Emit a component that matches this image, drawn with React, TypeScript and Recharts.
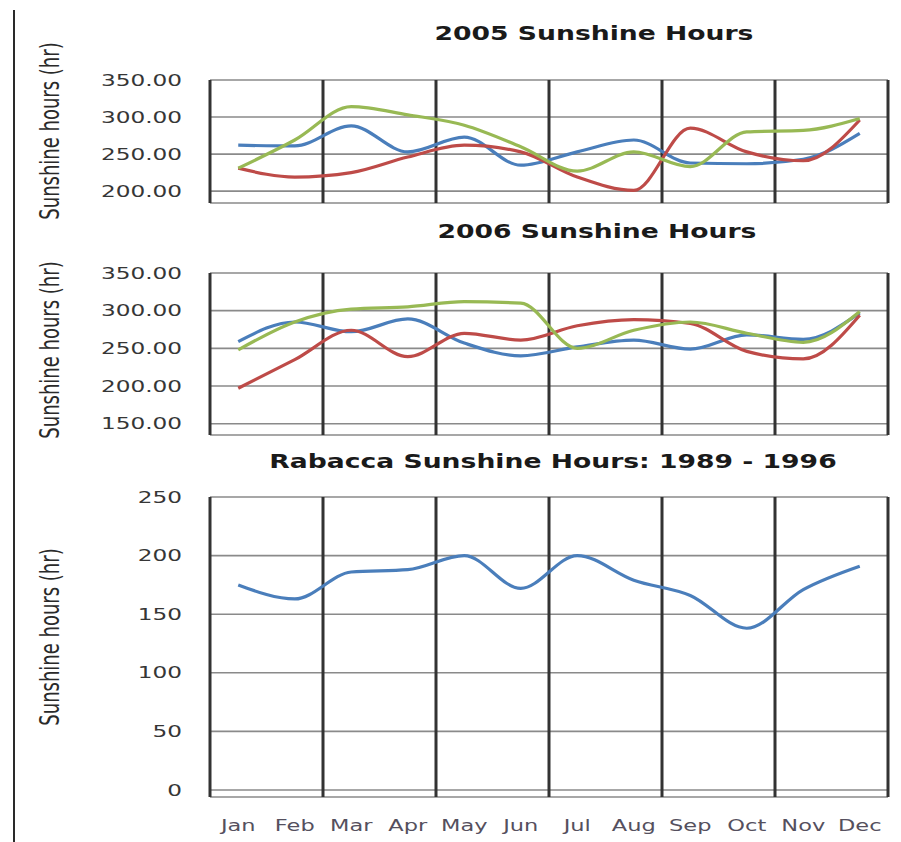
import React from "react"
import { LineChart, Line, XAxis, YAxis, CartesianGrid, ReferenceLine } from "recharts"

const MONTHS = ["Jan", "Feb", "Mar", "Apr", "May", "Jun", "Jul", "Aug", "Sep", "Oct", "Nov", "Dec"]

// 2005
const BLUE_2005 = [262, 261, 288, 253, 273, 235, 253, 269, 238, 237, 243, 278]
const RED_2005 = [231, 219, 225, 246, 262, 253, 219, 201, 285, 253, 241, 296]
const GREEN_2005 = [231, 269, 314, 303, 289, 260, 227, 253, 233, 280, 282, 298]

// 2006
const BLUE_2006 = [259, 285, 272, 289, 257, 240, 252, 261, 249, 268, 262, 297]
const RED_2006 = [197, 235, 274, 239, 270, 261, 280, 288, 283, 246, 236, 294]
const GREEN_2006 = [248, 285, 302, 305, 312, 310, 250, 274, 285, 270, 258, 299]

// Rabacca 1989 - 1996
const RABACCA = [175, 163, 186, 188, 200, 172, 200, 179, 166, 138, 171, 191]

const TICKS_TOP = [200, 250, 300, 350]
const TICKS_MID = [150, 200, 250, 300, 350]
const TICKS_BOTTOM = [0, 50, 100, 150, 200, 250]
const MONTH_TICKS = MONTHS.map((_, i) => i)
const DIVIDERS = [1.5, 3.5, 5.5, 7.5, 9.5, 11.5]

const BLUE = "#4a7ebb"
const RED = "#be4b48"
const GREEN = "#98b954"

type Series = { key: string; color: string; values: number[] }

function buildRows(series: Series[]) {
  return MONTHS.map((month, i) => {
    const row: Record<string, number | string> = { m: i, month }
    series.forEach((s) => {
      row[s.key] = s.values[i]
    })
    return row
  })
}

function StretchedTick(props: any) {
  const { x, y, payload, decimals, anchor, dy } = props
  const value = typeof payload.value === "number" && decimals != null
    ? payload.value.toFixed(decimals)
    : payload.value
  return (
    <g transform={`translate(${x},${y})`}>
      <text
        x={0}
        y={0}
        dy={dy}
        textAnchor={anchor}
        transform="scale(1.45,1)"
        fontFamily="'DejaVu Sans', Verdana, sans-serif"
        fontSize={16}
        fill="#363636"
      >
        {value}
      </text>
    </g>
  )
}

function MonthTick(props: any) {
  const { x, y, payload } = props
  return (
    <g transform={`translate(${x},${y})`}>
      <text
        x={0}
        y={0}
        dy="0.71em"
        textAnchor="middle"
        transform="scale(1.5,1)"
        fontFamily="'DejaVu Sans', Verdana, sans-serif"
        fontSize={15}
        fill="#55505e"
      >
        {MONTHS[payload.value]}
      </text>
    </g>
  )
}

interface PanelProps {
  top: number
  height: number
  series: Series[]
  domain: [number, number]
  ticks: number[]
  decimals: number
  showMonths?: boolean
  marginBottom: number
}

function Panel({ top, height, series, domain, ticks, decimals, showMonths, marginBottom }: PanelProps) {
  const rows = buildRows(series)
  return (
    <div style={{ position: "absolute", left: 0, top, width: 901, height }}>
      <LineChart width={901} height={height} data={rows} margin={{ top: 10, right: 13, left: 0, bottom: marginBottom }}>
        <CartesianGrid vertical={false} stroke="#8a8a8a" strokeWidth={1.6} />
        <XAxis
          dataKey="m"
          type="number"
          domain={[-0.5, 11.5]}
          allowDataOverflow
          ticks={MONTH_TICKS}
          hide={!showMonths}
          axisLine={false}
          tickLine={false}
          tickSize={0}
          tickMargin={23}
          height={40}
          interval={0}
          tick={<MonthTick />}
        />
        <YAxis
          type="number"
          domain={domain}
          allowDataOverflow
          ticks={ticks}
          width={210}
          tickLine={false}
          tickSize={0}
          tickMargin={28}
          axisLine={{ stroke: "#333333", strokeWidth: 3 }}
          tick={<StretchedTick decimals={decimals} anchor="end" dy="0.35em" />}
        />
        {DIVIDERS.map((d) => (
          <ReferenceLine key={d} x={d} stroke="#333333" strokeWidth={3} />
        ))}
        {series.map((s) => (
          <Line
            key={s.key}
            type="monotone"
            dataKey={s.key}
            stroke={s.color}
            strokeWidth={3.2}
            dot={false}
            isAnimationActive={false}
          />
        ))}
      </LineChart>
    </div>
  )
}

const titleStyle = (cx: number, cy: number): React.CSSProperties => ({
  position: "absolute",
  left: cx,
  top: cy,
  transform: "translate(-50%, -50%) scaleX(1.4)",
  whiteSpace: "nowrap",
  fontFamily: "'DejaVu Sans', Verdana, sans-serif",
  fontWeight: 700,
  fontSize: 19,
  color: "#1a1a1a",
})

const axisLabelStyle = (cy: number): React.CSSProperties => ({
  position: "absolute",
  left: 50,
  top: cy,
  transform: "translate(-50%, -50%) rotate(-90deg) scaleY(1.35)",
  whiteSpace: "nowrap",
  fontFamily: "'Liberation Sans Narrow', 'DejaVu Sans Condensed', 'Noto Sans', sans-serif",
  fontStretch: "condensed",
  fontSize: 20,
  color: "#2a2a2a",
})

export default function App() {
  return (
    <div style={{ position: "absolute", left: 0, top: 0, width: 901, height: 842, background: "#ffffff", overflow: "hidden" }}>
      <div style={{ position: "absolute", left: 13, top: 10, width: 2, height: 832, background: "#2a2a2a" }} />

      <div style={titleStyle(594, 33)}>2005 Sunshine Hours</div>
      <div style={axisLabelStyle(131)}>Sunshine hours (hr)</div>
      <Panel
        top={70}
        height={140}
        marginBottom={7}
        domain={[184, 350]}
        ticks={TICKS_TOP}
        decimals={2}
        series={[
          { key: "blue", color: BLUE, values: BLUE_2005 },
          { key: "red", color: RED, values: RED_2005 },
          { key: "green", color: GREEN, values: GREEN_2005 },
        ]}
      />

      <div style={titleStyle(597, 231)}>2006 Sunshine Hours</div>
      <div style={axisLabelStyle(350)}>Sunshine hours (hr)</div>
      <Panel
        top={263}
        height={180}
        marginBottom={8}
        domain={[135, 350]}
        ticks={TICKS_MID}
        decimals={2}
        series={[
          { key: "blue", color: BLUE, values: BLUE_2006 },
          { key: "red", color: RED, values: RED_2006 },
          { key: "green", color: GREEN, values: GREEN_2006 },
        ]}
      />

      <div style={titleStyle(553, 461)}>Rabacca Sunshine Hours: 1989 - 1996</div>
      <div style={axisLabelStyle(637)}>Sunshine hours (hr)</div>
      <Panel
        top={487}
        height={355}
        marginBottom={5}
        domain={[-6, 250]}
        ticks={TICKS_BOTTOM}
        decimals={0}
        showMonths
        series={[{ key: "rabacca", color: BLUE, values: RABACCA }]}
      />
    </div>
  )
}
